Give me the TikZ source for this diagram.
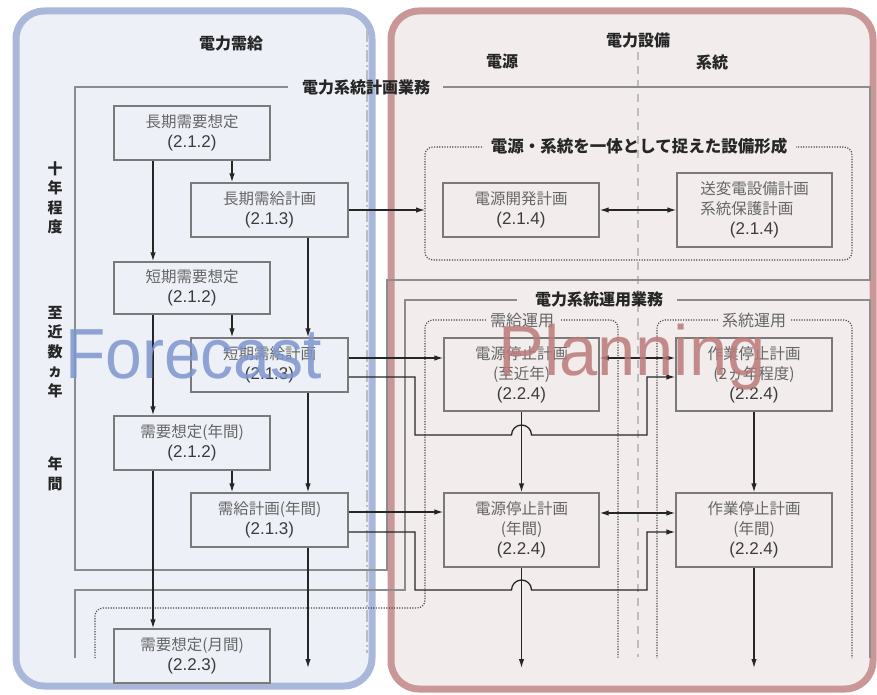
\documentclass[tikz,border=0pt]{standalone}
\usepackage{fontspec}
\usepackage{graphicx}
\setmainfont{Noto Sans CJK JP}
\newfontfamily\latinfont{Liberation Sans}
\usetikzlibrary{arrows.meta,calc}
\definecolor{bluepanel}{HTML}{EDF0F7}
\definecolor{blueborder}{HTML}{A8B7DA}
\definecolor{redpanel}{HTML}{F2ECEC}
\definecolor{redborder}{HTML}{C99797}
\definecolor{framegray}{HTML}{8C8C8C}
\definecolor{boxgray}{HTML}{7A7A7A}
\definecolor{txtgray}{HTML}{666666}
\definecolor{numgray}{HTML}{3C3C3C}
\definecolor{divgray}{HTML}{BDBDBD}
\definecolor{dotgray}{HTML}{4A4A4A}
\definecolor{wmblue}{HTML}{7F95CF}
\definecolor{wmred}{HTML}{BB7A7A}
\newcommand{\secnum}[1]{{\color{numgray}\latinfont\fontsize{17}{20}\selectfont #1}}
\tikzset{
  panel/.style={rounded corners=28pt, line width=7pt},
  box/.style={draw=boxgray, line width=1.3pt, minimum width=156pt, minimum height=54pt,
    inner sep=0pt, align=center, font=\fontsize{15.5}{20}\selectfont, text=txtgray},
  hdr/.style={font=\bfseries\fontsize{16}{18}\selectfont, text=black!85, inner sep=0pt},
  sublbl/.style={font=\fontsize{16}{18}\selectfont, text=txtgray, inner sep=0pt},
  vlbl/.style={font=\bfseries\fontsize{15}{19.5}\selectfont, text=black!85, align=center, inner sep=0pt},
  frameline/.style={draw=framegray, line width=2.2pt},
  dotframe/.style={draw=dotgray, line width=1.1pt, dash pattern=on 1.2pt off 1.4pt, rounded corners=8pt},
  arr/.style={-{Latex[length=9pt,width=5.5pt]}, line width=1.3pt, draw=black!85},
  dbl/.style={{Latex[length=9pt,width=5.5pt]}-{Latex[length=9pt,width=5.5pt]}, line width=1.3pt, draw=black!85},
  wm/.style={anchor=base west, inner sep=0pt, text opacity=0.85, font=\latinfont\fontsize{71}{71}\selectfont}
}
\begin{document}
\begin{tikzpicture}[x=1pt,y=-1pt]
\useasboundingbox (0,0) rectangle (877,695);
% panels
\draw[panel, draw=blueborder, fill=bluepanel] (16,11) rectangle (372,686);
\draw[panel, draw=redborder, fill=redpanel] (391,11) rectangle (873,689);
% divider lines
\draw[draw=divgray, line width=1.8pt, dash pattern=on 12pt off 3pt on 2pt off 3pt] (367,30) -- (367,653);
\draw[draw=divgray, line width=1.5pt, dash pattern=on 8pt off 6pt] (638,52) -- (638,657);
% headers
\node[hdr] (hSupply) at (231,43) {電力需給};
\node[hdr] (hEquip) at (638,40) {電力設備};
\node[hdr] (hGen) at (502,61) {電源};
\node[hdr] (hGrid) at (712,62) {系統};
% planning frame
\draw[frameline] (288,87) -- (75,87) -- (75,570) -- (387,570) -- (387,280) -- (870,280) -- (870,87) -- (443,87);
\node[hdr] (lPlan) at (366,87) {電力系統計画業務};
% operation frame
\draw[frameline] (75,658) -- (75,590) -- (405,590) -- (405,300) -- (517,300);
\draw[frameline] (677,300) -- (870,300) -- (870,658);
\node[hdr] (lOps) at (599,299) {電力系統運用業務};
% dotted frames
\draw[dotframe] (482,147) -- (425,147) -- (425,260) -- (852,260) -- (852,147) -- (796,147);
\node[hdr, font=\bfseries\fontsize{16.5}{18}\selectfont] (lF1) at (639,146) {電源・系統を一体として捉えた設備形成};
\coordinate (F1w) at (425,212);
\draw[dotframe] (486,320) -- (425,320) -- (425,608) -- (95,608) -- (95,658);
\draw[dotframe] (561,320) -- (618,320) -- (618,658);
\node[sublbl] (lF2) at (522,320) {需給運用};
\draw[dotframe] (718,320) -- (657,320) -- (657,658);
\draw[dotframe] (791,320) -- (852,320) -- (852,658);
\node[sublbl] (lF3) at (754,320) {系統運用};
% vertical labels
\node[vlbl] (v1) at (55,198) {十\\年\\程\\度};
\node[vlbl] (v2) at (55,352) {至\\近\\数\\ヵ\\年};
\node[vlbl] (v3) at (55,474) {年\\間};
% left boxes
\node[box] (B1) at (192,133) {長期需要想定\\\secnum{(2.1.2)}};
\node[box, minimum width=157pt] (B2) at (269.5,210) {長期需給計画\\\secnum{(2.1.3)}};
\node[box, minimum height=52pt] (B3) at (192,288) {短期需要想定\\\secnum{(2.1.2)}};
\node[box, minimum width=157pt] (B4) at (269.5,365) {短期需給計画\\\secnum{(2.1.3)}};
\node[box] (B5) at (192,443) {需要想定(年間)\\\secnum{(2.1.2)}};
\node[box, minimum width=157pt] (B6) at (269.5,520) {需給計画(年間)\\\secnum{(2.1.3)}};
\node[box] (B7) at (192,656) {需要想定(月間)\\\secnum{(2.2.3)}};
% right boxes
\node[box] (R1) at (521,210) {電源開発計画\\\secnum{(2.1.4)}};
\node[box, minimum width=155pt, minimum height=74pt] (R2) at (754.5,210) {送変電設備計画\\系統保護計画\phantom{画}\\\secnum{(2.1.4)}};
\node[box, minimum width=155pt, minimum height=73pt] (R3) at (521.5,374.5) {電源停止計画\\(至近年)\\\secnum{(2.2.4)}};
\node[box, minimum width=156pt, minimum height=73pt] (R4) at (754,374.5) {作業停止計画\\(2ヵ年程度)\\\secnum{(2.2.4)}};
\node[box, minimum width=155pt, minimum height=74pt] (R5) at (521.5,530) {電源停止計画\\(年間)\\\secnum{(2.2.4)}};
\node[box, minimum width=156pt, minimum height=74pt] (R6) at (754,530) {作業停止計画\\(年間)\\\secnum{(2.2.4)}};
% end coordinates
\coordinate (E1) at (308,668);
\coordinate (E2) at (521.5,668);
\coordinate (E3) at (754,668);
% left column arrows
\draw[arr] (B1.south -| 232,0) -- (B2.north -| 232,0);
\draw[arr] (B1.south -| 153,0) -- (B3.north -| 153,0);
\draw[arr] (B2.south -| 308,0) -- (B4.north -| 308,0);
\draw[arr] (B3.south -| 232,0) -- (B4.north -| 232,0);
\draw[arr] (B3.south -| 153,0) -- (B5.north -| 153,0);
\draw[arr] (B4.south -| 308,0) -- (B6.north -| 308,0);
\draw[arr] (B5.south -| 232,0) -- (B6.north -| 232,0);
\draw[arr] (B5.south -| 153,0) -- (B7.north -| 153,0);
\draw[arr] (B6.south -| 308,0) -- (E1);
% cross arrows
\draw[arr] (B2.east) -- (B2.east -| F1w);
\draw[dbl] (R1.east) -- (R2.west |- R1.east);
\draw[arr] (B4.east |- 0,358) -- (R3.west |- 0,358);
\draw[arr] (B4.east |- 0,377) -- (415,377) -- (415,435) -- (511.5,435) arc[start angle=180, end angle=360, radius=10] -- (647,435) -- (647,377) -- (R4.west |- 0,377);
\draw[dbl] (R3.east |- 0,358) -- (R4.west |- 0,358);
\draw[arr] (R3.south) -- (R5.north);
\draw[arr] (R4.south) -- (R6.north);
\draw[arr] (B6.east |- 0,512) -- (R5.west |- 0,512);
\draw[arr] (B6.east |- 0,532) -- (415,532) -- (415,590) -- (511.5,590) arc[start angle=180, end angle=360, radius=10] -- (647,590) -- (647,532) -- (R6.west |- 0,532);
\draw[dbl] (R5.east |- 0,513) -- (R6.west |- 0,513);
\draw[arr] (R5.south) -- (E2);
\draw[arr] (R6.south) -- (E3);
% watermarks
\node[wm, text=wmblue] (wmF) at (65,378) {\scalebox{0.93}[1]{Forecast}};
\node[wm, text=wmred] (wmP) at (498,375) {\scalebox{0.967}[1]{Planning}};
\end{tikzpicture}
\end{document}
